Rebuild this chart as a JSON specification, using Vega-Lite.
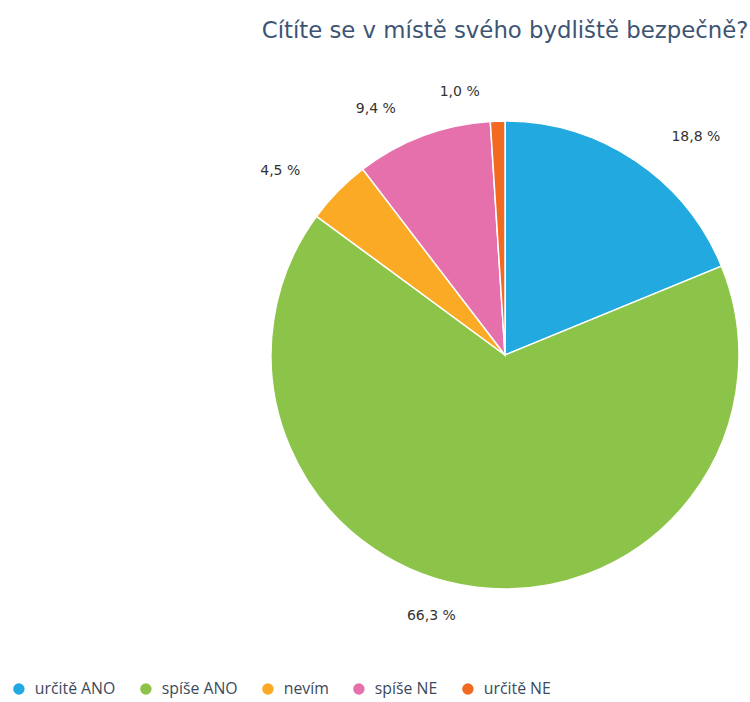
{
  "$schema": "https://vega.github.io/schema/vega-lite/v6.json",
  "width": 490,
  "height": 490,
  "autosize": {"type": "none"},
  "padding": {"left": 260, "top": 110, "right": 0, "bottom": 102},
  "background": "white",
  "title": {
    "text": "Cítíte se v místě svého bydliště bezpečně?",
    "anchor": "middle",
    "frame": "group",
    "offset": 42,
    "fontSize": 22.8,
    "font": "DejaVu Sans",
    "fontWeight": "normal",
    "color": "#3d5573"
  },
  "data": {
    "values": [
      {"cat": "určitě ANO", "value": 18.8, "label": "18,8 %", "order": 1},
      {"cat": "spíše ANO", "value": 66.3, "label": "66,3 %", "order": 2},
      {"cat": "nevím", "value": 4.5, "label": "4,5 %", "order": 3},
      {"cat": "spíše NE", "value": 9.4, "label": "9,4 %", "order": 4},
      {"cat": "určitě NE", "value": 1.0, "label": "1,0 %", "order": 5}
    ]
  },
  "encoding": {
    "theta": {"field": "value", "type": "quantitative", "stack": true},
    "order": {"field": "order", "type": "quantitative"}
  },
  "layer": [
    {
      "mark": {"type": "arc", "outerRadius": 234, "stroke": "white", "strokeWidth": 1.5},
      "encoding": {
        "color": {
          "field": "cat",
          "type": "nominal",
          "scale": {
            "domain": ["určitě ANO", "spíše ANO", "nevím", "spíše NE", "určitě NE"],
            "range": ["#22a9e0", "#8cc44a", "#fbaa25", "#e570ab", "#f26a22"]
          },
          "legend": {
            "title": null,
            "orient": "none",
            "direction": "horizontal",
            "legendX": -249,
            "legendY": 571,
            "symbolType": "circle",
            "symbolSize": 130,
            "symbolStrokeWidth": 0,
            "labelFont": "Open Sans",
            "labelFontSize": 15.8,
            "labelColor": "#3b4a5c",
            "labelOffset": 8,
            "columnPadding": 22,
            "padding": 0
          }
        }
      }
    },
    {
      "mark": {"type": "text", "radius": 263, "align": "left", "dx": 20, "font": "DejaVu Sans", "fontSize": 14, "color": "#333333"},
      "encoding": {
        "text": {"condition": {"test": "datum.cat === 'určitě ANO'", "field": "label"}, "value": ""}
      }
    },
    {
      "mark": {"type": "text", "radius": 263, "align": "right", "dx": -17, "font": "DejaVu Sans", "fontSize": 14, "color": "#333333"},
      "encoding": {
        "text": {"condition": {"test": "datum.cat !== 'určitě ANO'", "field": "label"}, "value": ""}
      }
    }
  ]
}
